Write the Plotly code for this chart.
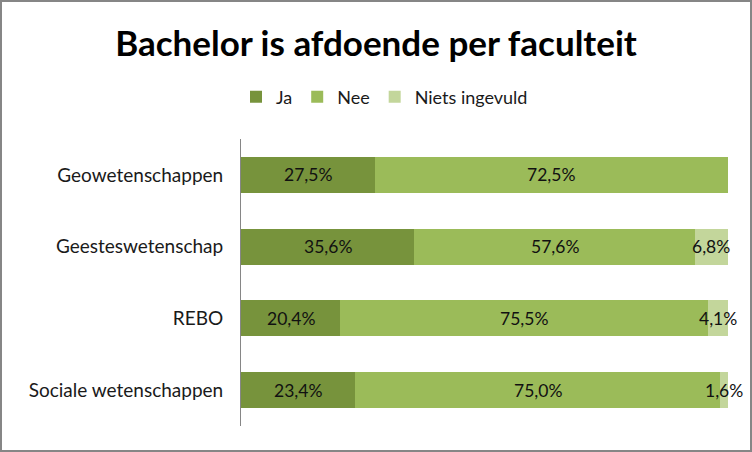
import plotly.graph_objects as go

categories = ["Geowetenschappen", "Geesteswetenschap", "REBO", "Sociale wetenschappen"]
ja = [27.5, 35.6, 20.4, 23.4]
nee = [72.5, 57.6, 75.5, 75.0]
niets = [0.0, 6.8, 4.1, 1.6]
series_names = ["Ja", "Nee", "Niets ingevuld"]
colors = ["#77933C", "#9BBB59", "#C3D69B"]

W, H = 752, 452
ML, MR, MT, MB = 241, 24, 139, 26
FONT = "Lato, 'Open Sans', sans-serif"

fig = go.Figure()
for name, vals, col in zip(series_names, [ja, nee, niets], colors):
    fig.add_trace(go.Bar(
        y=categories, x=vals, name=name, orientation="h",
        marker=dict(color=col, line=dict(width=0)),
        hoverinfo="x+name",
    ))

# data labels centred in each segment
for i, cat in enumerate(categories):
    start = 0.0
    for vals in [ja, nee, niets]:
        v = vals[i]
        if v > 0:
            fig.add_annotation(
                x=start + v / 2, y=cat, xref="x", yref="y",
                text=f"{v:.1f}%".replace(".", ","), showarrow=False,
                font=dict(size=17.5, color="#111111", family=FONT),
            )
        start += v

pw = W - ML - MR
ph = H - MT - MB
fig.add_shape(type="rect", xref="paper", yref="paper",
              x0=(1 - ML) / pw, x1=1 + (MR - 1) / pw,
              y0=-(MB - 1) / ph, y1=1 + (MT - 1) / ph,
              line=dict(color="#868686", width=2), fillcolor="rgba(0,0,0,0)", layer="below")

fig.update_layout(
    width=W, height=H,
    margin=dict(l=ML, r=MR, t=MT, b=MB),
    barmode="stack", bargap=0.5,
    paper_bgcolor="white", plot_bgcolor="white",
    title=dict(text="<b>Bachelor is afdoende per faculteit</b>", x=0.5, xref="container", xanchor="center",
               y=1 - 44 / H, yref="container", yanchor="middle",
               font=dict(size=35, color="black", family=FONT)),
    legend=dict(orientation="h", x=(236 - ML) / pw, xanchor="left", y=1 + (MT - 97) / ph, yanchor="middle",
                font=dict(size=18, color="#1a1a1a", family=FONT), traceorder="normal",
                itemwidth=30),
    xaxis=dict(range=[0, 100], showgrid=False, showticklabels=False, zeroline=False, showline=False, fixedrange=True),
    yaxis=dict(autorange="reversed", showgrid=False, showline=True, linecolor="#868686", linewidth=1,
               ticks="", tickfont=dict(size=19, color="#1a1a1a", family=FONT), ticklabelstandoff=13),
    showlegend=True,
)

fig.write_html("out.html", config={"displayModeBar": False},
               post_script="document.body.style.margin='0';")
